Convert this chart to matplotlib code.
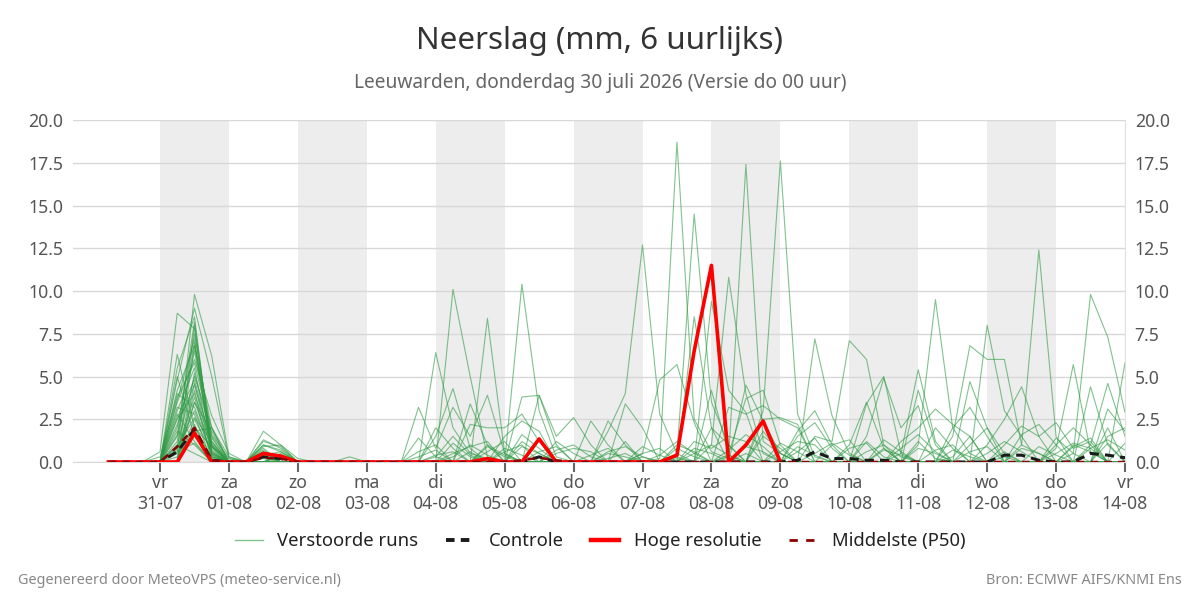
import matplotlib
matplotlib.use("Agg")
import matplotlib.pyplot as plt
import numpy as np
import pandas as pd
from matplotlib.lines import Line2D

plt.rcParams['font.family'] = ['Noto Sans', 'DejaVu Sans']

# ---- data -------------------------------------------------------------
n_steps = 60  # 6-hourly steps from 30-07 06:00 to 14-08 00:00
start_time = "2026-07-30 06:00"

day_labels = ["vr\n31-07", "za\n01-08", "zo\n02-08", "ma\n03-08", "di\n04-08",
              "wo\n05-08", "do\n06-08", "vr\n07-08", "za\n08-08", "zo\n09-08",
              "ma\n10-08", "di\n11-08", "wo\n12-08", "do\n13-08", "vr\n14-08"]
shaded_days = [0, 2, 4, 6, 8, 10, 12]  # day index (from 31-07) of grey bands

# Ensemble members (index of 6-hour step -> mm), unlisted steps are 0
members = [
    {3: 0.6, 4: 8.7, 5: 7.8, 6: 0.2, 9: 1.0, 10: 0.6, 19: 0.3, 20: 1.5, 21: 0.4, 31: 0.3, 37: 0.5, 47: 1.2, 48: 0.2},
    {4: 0.5, 5: 9.8, 6: 6.2, 7: 0.3, 9: 1.3, 10: 0.8, 22: 0.6, 23: 1.2, 33: 0.8, 34: 0.3, 40: 0.6, 41: 1.4, 52: 0.3},
    {4: 6.3, 5: 2.0, 6: 0.3, 9: 0.5, 19: 2.0, 20: 0.8, 24: 1.2, 25: 0.5, 36: 0.4, 38: 1.8, 39: 0.5, 56: 1.0, 57: 0.6},
    {4: 5.5, 5: 8.5, 6: 0.5, 9: 1.8, 10: 1.0, 11: 0.2, 18: 1.4, 19: 0.3, 35: 1.0, 36: 0.4, 44: 1.2, 45: 0.3},
    {4: 4.8, 5: 9.0, 6: 5.0, 7: 0.2, 10: 0.5, 20: 10.1, 21: 5.0, 22: 0.3, 33: 0.2, 37: 4.5, 38: 2.4, 39: 0.5},
    {4: 3.5, 5: 6.0, 6: 2.7, 7: 0.5, 9: 0.8, 22: 8.4, 23: 0.5, 29: 0.2, 30: 0.5, 48: 2.0, 49: 0.8},
    {4: 2.0, 5: 7.5, 6: 1.5, 9: 0.7, 24: 10.4, 25: 3.0, 26: 0.3, 47: 4.2, 48: 1.0},
    {4: 1.0, 5: 5.0, 6: 2.0, 9: 1.2, 10: 0.9, 19: 6.4, 20: 2.0, 21: 0.5, 22: 0.2, 41: 7.2, 42: 2.7, 43: 0.5},
    {4: 2.5, 5: 4.0, 6: 1.0, 29: 1.8, 30: 4.0, 31: 12.7, 32: 2.8, 33: 0.5, 51: 1.0, 52: 2.5, 53: 4.4, 54: 1.5},
    {4: 0.8, 5: 3.0, 6: 0.5, 32: 0.2, 33: 18.7, 34: 2.5, 35: 0.6, 36: 0.2, 58: 1.5, 59: 2.0},
    {4: 1.5, 5: 6.5, 6: 0.8, 9: 0.4, 33: 0.5, 34: 14.5, 35: 3.5, 36: 1.0, 55: 0.8, 56: 5.7, 57: 0.6},
    {5: 2.5, 6: 0.6, 34: 0.5, 35: 1.0, 36: 10.8, 37: 4.0, 38: 0.5, 50: 1.0, 51: 2.0},
    {4: 3.0, 5: 5.5, 6: 0.4, 36: 0.3, 37: 17.4, 38: 1.2, 39: 0.5, 49: 0.3, 50: 1.5},
    {4: 2.2, 5: 4.5, 6: 1.2, 38: 3.0, 39: 17.6, 40: 2.8, 41: 0.3, 46: 0.5, 47: 5.4, 48: 1.2},
    {5: 1.5, 6: 0.3, 41: 1.5, 42: 1.2, 43: 7.1, 44: 6.0, 45: 1.0, 46: 0.3, 57: 1.0, 58: 4.6, 59: 1.5},
    {5: 3.5, 6: 1.8, 44: 3.4, 45: 5.0, 46: 0.5, 53: 1.0, 54: 12.4, 55: 1.5},
    {4: 1.2, 5: 7.0, 6: 0.6, 47: 1.0, 48: 9.5, 49: 2.0, 50: 0.5, 56: 0.5, 57: 9.8, 58: 7.3, 59: 2.9},
    {5: 2.0, 6: 0.9, 49: 1.5, 50: 6.8, 51: 6.0, 52: 6.0, 53: 1.0, 54: 0.5, 59: 5.8},
    {4: 0.7, 5: 3.8, 6: 0.2, 50: 4.7, 51: 2.0, 52: 0.5, 58: 3.1, 59: 1.8},
    {4: 1.8, 5: 1.0, 51: 8.0, 52: 3.0, 53: 1.5, 57: 4.4, 58: 1.0},
    {5: 5.2, 6: 1.4, 19: 1.5, 20: 4.3, 21: 0.8, 25: 3.9, 26: 1.0, 34: 8.5, 35: 2.0, 45: 0.8},
    {4: 4.0, 5: 3.2, 6: 0.5, 18: 3.2, 19: 0.8, 20: 3.2, 21: 1.5, 22: 3.9, 23: 0.5, 35: 9.4, 36: 4.2, 37: 2.9},
    {4: 3.2, 5: 2.8, 9: 0.6, 21: 2.2, 22: 2.0, 23: 2.0, 24: 2.8, 25: 1.2, 30: 3.4, 31: 2.0, 35: 4.2, 36: 0.5, 37: 3.7, 38: 4.2, 39: 1.0},
    {5: 8.0, 6: 1.0, 21: 3.4, 22: 1.0, 24: 3.8, 25: 3.9, 26: 1.5, 27: 2.6, 28: 1.0, 40: 1.8, 41: 3.0, 42: 1.0},
    {4: 2.8, 5: 1.2, 28: 2.4, 29: 1.0, 31: 0.5, 32: 4.8, 33: 5.7, 34: 2.3, 43: 1.0, 44: 3.5, 45: 0.8},
    {5: 4.2, 29: 2.4, 30: 1.0, 38: 2.5, 39: 2.6, 40: 2.2, 46: 1.2, 47: 2.0, 48: 3.1, 49: 2.2, 50: 1.5},
    {4: 5.0, 5: 1.5, 52: 1.0, 53: 2.1, 54: 1.5, 55: 2.3, 56: 0.8, 57: 1.2},
    {5: 6.8, 6: 2.0, 40: 1.5, 41: 2.3, 42: 0.8, 49: 2.0, 50: 3.2, 51: 1.5, 55: 1.0, 56: 2.0, 57: 1.0},
    {4: 1.0, 5: 0.5, 23: 1.5, 24: 2.4, 25: 1.8, 30: 1.2, 44: 1.5, 45: 4.9, 46: 2.0, 47: 3.3, 58: 2.0},
    {5: 4.6, 6: 0.4, 36: 3.2, 37: 2.8, 38: 3.3, 39: 2.5, 40: 2.0, 53: 1.6, 54: 2.2, 55: 1.0},
    {5: 2.2, 9: 0.9, 10: 1.0, 20: 0.5, 21: 0.9, 22: 1.2, 26: 0.5, 27: 0.8, 28: 0.6, 34: 1.2, 35: 0.8, 36: 1.5, 37: 1.2, 42: 1.0, 43: 1.3, 50: 0.6, 51: 0.9},
    {4: 0.3, 5: 3.5, 6: 0.9, 8: 0.1, 9: 0.6, 19: 0.4, 20: 0.6, 23: 0.8, 24: 0.4, 31: 0.5, 32: 0.8, 37: 0.9, 38: 0.6, 45: 0.7, 46: 0.4, 53: 0.8, 54: 0.5, 58: 1.1},
    {5: 1.8, 6: 2.0, 7: 0.3, 10: 0.4, 21: 0.6, 24: 1.6, 25: 0.8, 29: 0.5, 30: 0.3, 35: 2.0, 36: 1.0, 39: 0.6, 40: 1.2, 41: 1.0, 47: 0.8, 48: 0.5, 55: 0.5, 56: 1.1, 57: 0.8},
    {4: 0.6, 5: 1.1, 9: 0.3, 14: 0.3, 18: 0.6, 19: 1.0, 22: 1.0, 23: 0.4, 26: 1.2, 27: 0.5, 33: 1.0, 34: 0.6, 38: 1.5, 39: 0.8, 44: 0.6, 45: 1.0, 52: 0.6, 59: 1.1},
    {4: 4.2, 5: 6.8, 6: 1.1, 9: 1.0, 10: 0.7, 20: 0.3, 21: 1.0, 22: 0.4, 29: 0.6, 30: 0.9, 31: 0.3, 41: 0.5, 42: 1.1, 43: 0.4, 49: 0.7, 50: 0.3},
    {4: 1.6, 5: 8.2, 6: 0.7, 9: 0.4, 10: 0.6, 18: 0.3, 19: 0.7, 24: 0.9, 25: 0.5, 32: 0.4, 33: 1.2, 34: 0.5, 46: 0.8, 47: 1.6, 48: 0.6, 56: 0.9, 57: 1.4},
    {3: 0.3, 4: 3.8, 5: 5.8, 6: 1.6, 7: 0.2, 10: 0.3, 23: 0.6, 24: 1.0, 28: 0.4, 29: 0.8, 36: 0.7, 37: 1.6, 38: 0.9, 51: 0.5, 52: 1.2, 53: 0.6},
    {4: 2.6, 5: 4.8, 6: 0.9, 9: 0.6, 20: 1.1, 21: 0.3, 26: 0.7, 27: 1.0, 28: 0.3, 39: 1.1, 40: 0.6, 43: 0.8, 44: 1.1, 54: 0.9, 55: 0.4},
    {4: 0.9, 5: 2.6, 6: 1.2, 9: 0.2, 22: 0.9, 23: 0.3, 31: 0.9, 32: 0.4, 34: 0.8, 35: 0.5, 45: 1.3, 46: 0.6, 57: 0.8, 58: 1.3, 59: 0.7},
    {4: 3.6, 5: 7.2, 6: 0.3, 10: 0.4, 25: 0.6, 26: 0.9, 33: 0.3, 40: 0.9, 41: 0.4, 48: 0.7, 49: 1.0, 55: 1.4, 56: 0.5},
]

# High resolution run (ends at step 39)
hres_len = 40
hres = {5: 1.7, 9: 0.5, 10: 0.35, 22: 0.2, 25: 1.35, 33: 0.4, 34: 6.5, 35: 11.5, 37: 1.0, 38: 2.4}

# Control run
control = {4: 0.6, 5: 1.9, 6: 0.1, 9: 0.3, 10: 0.2, 25: 0.3, 40: 0.1, 41: 0.6, 42: 0.2, 43: 0.2, 44: 0.1,
           45: 0.1, 52: 0.4, 53: 0.4, 54: 0.1, 57: 0.5, 58: 0.4, 59: 0.25}

# Median (P50)
p50 = {4: 0.9, 5: 2.0, 6: 0.1, 9: 0.25, 10: 0.2, 24: 0.1, 25: 0.25, 26: 0.1}

y_ticks = [0.0, 2.5, 5.0, 7.5, 10.0, 12.5, 15.0, 17.5, 20.0]

# ---- build series -----------------------------------------------------
times = pd.date_range(start_time, periods=n_steps, freq="6h")
t0 = pd.Timestamp("2026-07-31 00:00")
hours = np.array([(t - t0).total_seconds() / 3600 for t in times])


def series(d, length=n_steps):
    arr = np.zeros(length)
    for k, v in d.items():
        arr[k] = v
    return arr


fig = plt.figure(figsize=(12, 6), dpi=100)
ax = fig.add_axes([73 / 1200, 138 / 600, (1125 - 73) / 1200, (462 - 120) / 600])

for d in shaded_days:
    ax.axvspan(d * 24, (d + 1) * 24, color="#ededed", zorder=0, lw=0)

for m in members:
    ax.plot(hours, series(m), color="#2e9a43", alpha=0.6, lw=0.8, zorder=2)

ax.plot(hours, series(control), color="#1a1a1a", lw=2.2, ls=(0, (3, 2)), zorder=4)
ax.plot(hours[:hres_len], series(hres, hres_len), color="#ff0000", lw=2.6, zorder=5)
ax.plot(hours, series(p50), color="#8b0000", lw=1.8, ls=(0, (3, 2.5)), zorder=6)

ax.set_xlim(-30.3, 336)
ax.set_ylim(0, 20)
ax.set_yticks(y_ticks)
ax.set_yticklabels([f"{v:.1f}" for v in y_ticks])
ax.set_xticks([i * 24 for i in range(len(day_labels))])
ax.set_xticklabels(day_labels)
ax.yaxis.grid(True, color="#d8d8d8", lw=1)
ax.set_axisbelow(True)
ax.tick_params(axis="y", length=0, labelsize=12.7, colors="#555555", pad=7,
               labelleft=True, labelright=True)
ax.tick_params(axis="x", length=7, width=1.5, color="#666666", labelsize=12.7,
               labelcolor="#555555", pad=2)
for s in ["top", "left"]:
    ax.spines[s].set_visible(False)
ax.spines["right"].set_color("#e0e0e0")
ax.spines["bottom"].set_color("#d8d8d8")

fig.text(0.5, 1 - 41 / 600, "Neerslag (mm, 6 uurlijks)", ha="center", va="center",
         fontsize=22.5, color="#333333")
fig.text(0.5, 1 - 83 / 600, "Leeuwarden, donderdag 30 juli 2026 (Versie do 00 uur)",
         ha="center", va="center", fontsize=13.8, color="#666666")

handles = [
    Line2D([], [], color="#7cc68a", lw=1),
    Line2D([], [], color="#1a1a1a", lw=2.8, ls=(0, (2.2, 1.6))),
    Line2D([], [], color="#ff0000", lw=3.2),
    Line2D([], [], color="#8b0000", lw=2, ls=(0, (3, 3))),
]
labels = ["Verstoorde runs", "Controle", "Hoge resolutie", "Middelste (P50)"]
fig.legend(handles, labels, loc="center", bbox_to_anchor=(0.5, 1 - 541 / 600), ncol=4,
           frameon=False, fontsize=13.3, handlelength=1.5, columnspacing=1.5,
           handletextpad=0.8, labelcolor="#222222")

fig.text(18 / 1200, 1 - 580 / 600, "Gegenereerd door MeteoVPS (meteo-service.nl)",
         ha="left", va="center", fontsize=10.4, color="#888888")
fig.text(1182 / 1200, 1 - 580 / 600, "Bron: ECMWF AIFS/KNMI Ens",
         ha="right", va="center", fontsize=10.4, color="#888888")

fig.savefig("out.png", dpi=100)
